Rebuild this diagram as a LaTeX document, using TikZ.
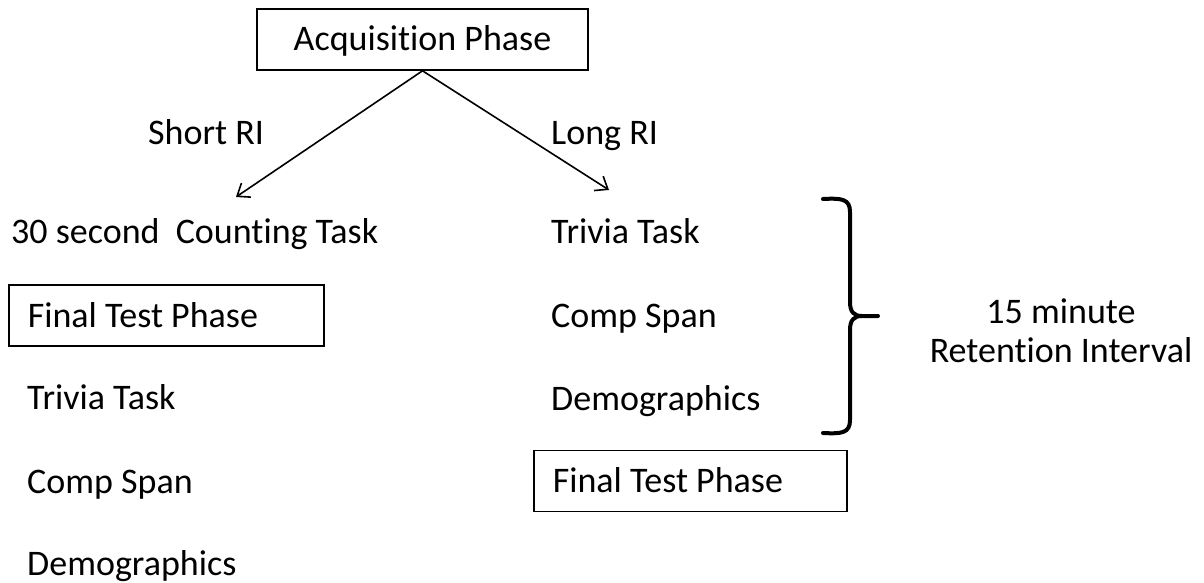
\documentclass[tikz,border=0pt]{standalone}
\usepackage{fontspec}
\setmainfont{Carlito}[Ligatures=NoCommon]
\usetikzlibrary{arrows.meta}
\begin{document}
\begin{tikzpicture}[x=1pt,y=-1pt,
  every node/.style={font=\fontsize{36}{40}\selectfont, inner sep=0pt},
  lbl/.style={anchor=base west},
  phasebox/.style={draw, line width=1.6pt, inner xsep=19pt, text height=30pt, text depth=7pt, minimum height=61pt},
  branch/.style={line width=1.6pt, -{Straight Barb[length=11pt,width=17pt,line width=1.6pt]}},
  bracket/.style={line width=4pt, line cap=round}]
\useasboundingbox (0,0) rectangle (1204,583);

% top phase and the two retention branches
\node[phasebox, minimum width=331pt, inner xsep=0pt] (acq) at (422.5,39.5) {Acquisition Phase};
\coordinate (shortend) at (236,197);
\coordinate (longend) at (609,190);
\draw[branch] (acq.south) -- (shortend);
\draw[branch] (acq.south) -- (longend);
\node[lbl] (shortri) at (148,145) {Short RI};
\node[lbl] (longri) at (551,145) {Long RI};

% short retention interval sequence
\node[lbl] (count) at (11,243) {30 second\ \ Counting Task};
\node[phasebox, anchor=west, minimum width=315pt, text width=277pt, align=flush left] (finalL) at (8,315.5) {Final Test Phase};
\node[lbl] (triviaL) at (27,409) {Trivia Task};
\node[lbl] (compL) at (27,493) {Comp Span};
\node[lbl] (demoL) at (27,575) {Demographics};

% long retention interval sequence
\node[lbl] (triviaR) at (551,243) {Trivia Task};
\node[lbl] (compR) at (551,327) {Comp Span};
\node[lbl] (demoR) at (551,410) {Demographics};
\node[phasebox, anchor=west, minimum width=313pt, text width=275pt, align=flush left] (finalR) at (533,481) {Final Test Phase};

% brace grouping the filler tasks
\draw[bracket] (823,199) .. controls (842,198) and (850,199) .. (850,212) -- (850,302)
  .. controls (850,312) and (854,316) .. (862,316) -- (878,316);
\draw[bracket] (823,433) .. controls (842,434) and (850,433) .. (850,420) -- (850,330)
  .. controls (850,320) and (854,316) .. (862,316);

% duration of the long interval
\node[anchor=base] (rimin) at (1061,323) {15 minute};
\node[anchor=base] (rilabel) at (1061,362) {Retention Interval};
\end{tikzpicture}
\end{document}
